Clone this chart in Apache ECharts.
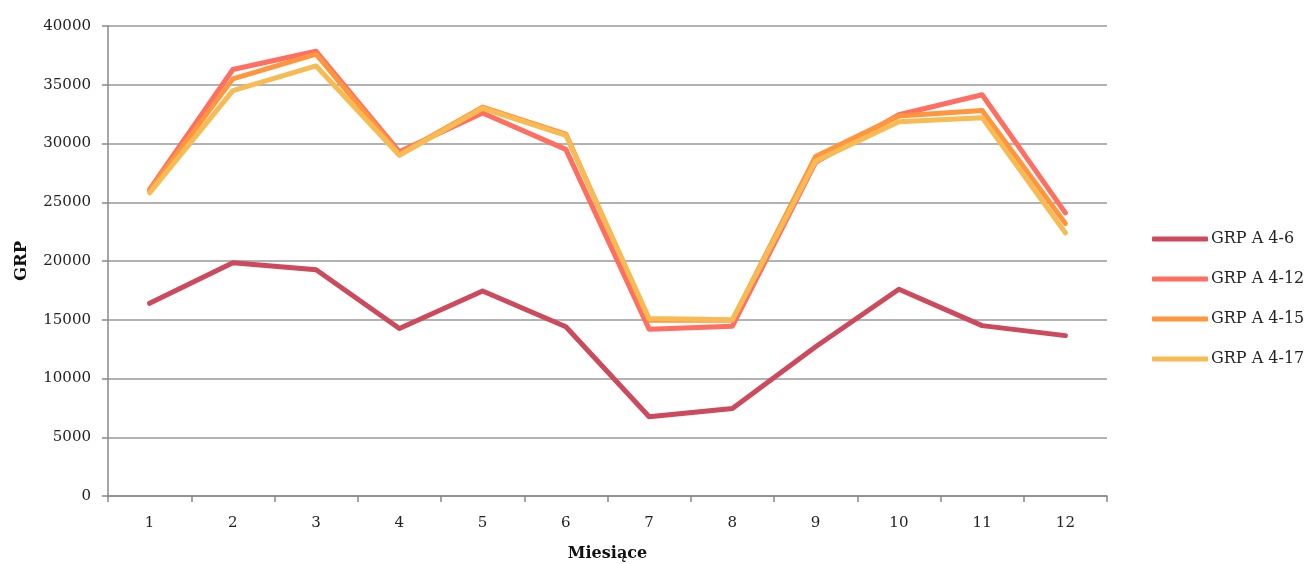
<!DOCTYPE html>
<html>
<head>
<meta charset="utf-8">
<script src="https://cdn.jsdelivr.net/npm/echarts@6/dist/echarts.min.js"></script>
<style>html,body{margin:0;padding:0;background:#fff}#c{width:1314px;height:564px}</style>
</head>
<body>
<div id="c"></div>
<script>
const categories = ['1','2','3','4','5','6','7','8','9','10','11','12'];
const seriesNames = ['GRP A 4-6','GRP A 4-12','GRP A 4-15','GRP A 4-17'];
const grpA4_6  = [16400, 19850, 19250, 14250, 17450, 14400, 6750, 7450, 12700, 17600, 14500, 13650];
const grpA4_12 = [26100, 36300, 37850, 29300, 32600, 29500, 14200, 14450, 28400, 32450, 34150, 24100];
const grpA4_15 = [26000, 35500, 37600, 29100, 33100, 30800, 14950, 14950, 28900, 32350, 32800, 23200];
const grpA4_17 = [25800, 34500, 36600, 29000, 33000, 30700, 15100, 15000, 28500, 31850, 32200, 22400];
const colors = ['#CC4A5C', '#FF6F61', '#FF963E', '#F8BA52'];

const font = '"DejaVu Serif", "Liberation Serif", serif';
const chart = echarts.init(document.getElementById('c'), null, {renderer: 'canvas'});
const data = [grpA4_6, grpA4_12, grpA4_15, grpA4_17];
chart.setOption({
  animation: false,
  color: colors,
  grid: {left: 108, right: 207, top: 26, bottom: 68, containLabel: false, outerBoundsMode: 'none'},
  legend: {
    orient: 'vertical',
    left: 1147,
    top: 223,
    itemWidth: 56,
    itemHeight: 5,
    itemGap: 18,
    icon: 'roundRect',
    textStyle: {fontFamily: font, fontSize: 16, color: '#222', padding: [0,0,0,-2], lineHeight: 22},
    data: seriesNames
  },
  xAxis: {
    type: 'category',
    data: categories,
    boundaryGap: true,
    name: 'Miesiące',
    nameLocation: 'middle',
    nameGap: 50,
    nameTextStyle: {fontFamily: font, fontSize: 16, fontWeight: 'bold', color: '#111'},
    axisLine: {lineStyle: {color: '#888', width: 1.5}},
    axisTick: {show: true, length: 6, lineStyle: {color: '#888', width: 1.5}},
    axisLabel: {fontFamily: font, fontSize: 15, color: '#222', margin: 20},
    splitLine: {show: false}
  },
  yAxis: {
    type: 'value',
    min: 0, max: 40000, interval: 5000,
    name: 'GRP',
    nameLocation: 'middle',
    nameGap: 78,
    nameRotate: 90,
    nameTextStyle: {fontFamily: font, fontSize: 16.5, fontWeight: 'bold', color: '#111'},
    axisLine: {show: true, lineStyle: {color: '#888', width: 1.5}},
    axisTick: {show: true, length: 6, lineStyle: {color: '#888', width: 1.5}},
    axisLabel: {fontFamily: font, fontSize: 15, color: '#222', margin: 17, formatter: v => String(v)},
    splitLine: {show: true, lineStyle: {color: '#999', width: 1.5}}
  },
  series: seriesNames.map((n, i) => ({
    name: n,
    type: 'line',
    data: data[i],
    symbol: 'none',
    lineStyle: {width: 5, cap: 'round', join: 'round'},
    z: 2 + i
  }))
});
</script>
</body>
</html>
